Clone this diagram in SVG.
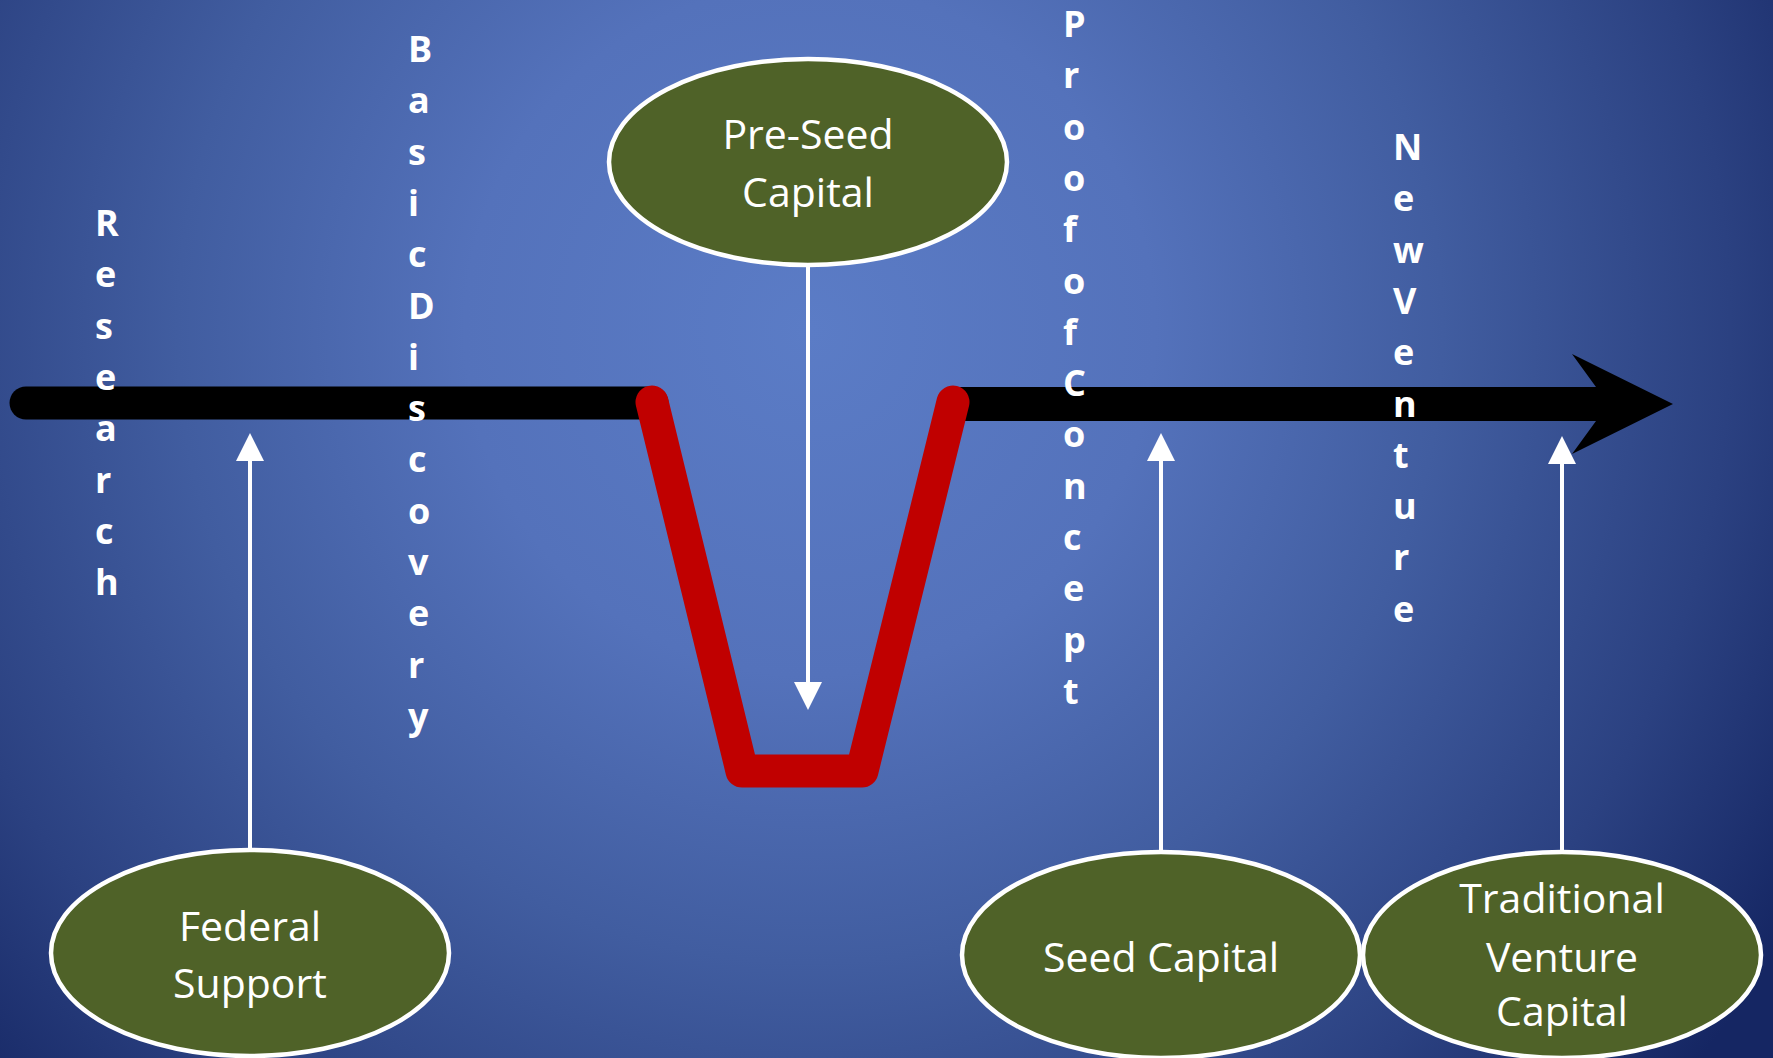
<svg xmlns="http://www.w3.org/2000/svg" width="1773" height="1058" viewBox="0 0 1773 1058">
  <defs>
    <radialGradient id="bg" gradientUnits="userSpaceOnUse" cx="810" cy="330" r="1150">
      <stop offset="0" stop-color="#5b7cc6"/>
      <stop offset="0.3" stop-color="#5472bb"/>
      <stop offset="0.55" stop-color="#415da0"/>
      <stop offset="0.8" stop-color="#2b4181"/>
      <stop offset="1" stop-color="#152663"/>
    </radialGradient>
    <marker id="head" viewBox="0 0 28 28" refX="2" refY="14" markerWidth="28" markerHeight="28" markerUnits="userSpaceOnUse" orient="auto">
      <path d="M0,0 L28,14 L0,28 z" fill="#ffffff"/>
    </marker>
  </defs>
  <style>
    .node ellipse { fill: #4f6228; stroke: #ffffff; stroke-width: 4.5; }
    .label { font-family: "Open Sans", "Liberation Sans", sans-serif; font-size: 41px; fill: #ffffff; text-anchor: middle; }
    .vert { font-family: "Open Sans", "Liberation Sans", sans-serif; font-size: 36px; font-weight: bold; fill: #ffffff; }
    .conn { stroke: #ffffff; stroke-width: 4; fill: none; marker-end: url(#head); }
  </style>
  <rect x="0" y="0" width="1773" height="1058" fill="url(#bg)"/>

  <g id="timeline">
    <line x1="26" y1="403" x2="652" y2="403" stroke="#000000" stroke-width="33" stroke-linecap="round"/>
    <polygon points="953,387 1596,387 1572,354 1673,404 1572,454 1596,421 953,421" fill="#000000"/>
    <path d="M652,402 L742,771 L862,771 L953,402" fill="none" stroke="#c00000" stroke-width="33" stroke-linecap="round" stroke-linejoin="round"/>
  </g>

  <g id="connectors">
    <line class="conn" x1="808" y1="267" x2="808" y2="684"/>
    <line class="conn" x1="250" y1="848" x2="250" y2="459"/>
    <line class="conn" x1="1161" y1="850" x2="1161" y2="459"/>
    <line class="conn" x1="1562" y1="850" x2="1562" y2="462"/>
  </g>

  <g id="node-preseed" class="node">
    <ellipse cx="808" cy="162" rx="199" ry="103"/>
    <text class="label" x="808" y="149">Pre-Seed</text>
    <text class="label" x="808" y="207">Capital</text>
  </g>
  <g id="node-federal" class="node">
    <ellipse cx="250" cy="953" rx="199" ry="103"/>
    <text class="label" x="250" y="941">Federal</text>
    <text class="label" x="250" y="998">Support</text>
  </g>
  <g id="node-seed" class="node">
    <ellipse cx="1161" cy="955" rx="199" ry="103"/>
    <text class="label" x="1161" y="972">Seed Capital</text>
  </g>
  <g id="node-traditional" class="node">
    <ellipse cx="1562" cy="955" rx="199" ry="103"/>
    <text class="label" x="1562" y="913">Traditional</text>
    <text class="label" x="1562" y="972">Venture</text>
    <text class="label" x="1562" y="1026">Capital</text>
  </g>

  <g id="stage-research">
    <text class="vert" x="95" y="236"><tspan x="95">R</tspan><tspan x="95" dy="51.3">e</tspan><tspan x="95" dy="51.3">s</tspan><tspan x="95" dy="51.3">e</tspan><tspan x="95" dy="51.3">a</tspan><tspan x="95" dy="51.3">r</tspan><tspan x="95" dy="51.3">c</tspan><tspan x="95" dy="51.3">h</tspan></text>
  </g>
  <g id="stage-basic-discovery">
    <text class="vert" x="408" y="62"><tspan x="408">B</tspan><tspan x="408" dy="51.3">a</tspan><tspan x="408" dy="51.3">s</tspan><tspan x="408" dy="51.3">i</tspan><tspan x="408" dy="51.3">c</tspan><tspan x="408" dy="51.3">D</tspan><tspan x="408" dy="51.3">i</tspan><tspan x="408" dy="51.3">s</tspan><tspan x="408" dy="51.3">c</tspan><tspan x="408" dy="51.3">o</tspan><tspan x="408" dy="51.3">v</tspan><tspan x="408" dy="51.3">e</tspan><tspan x="408" dy="51.3">r</tspan><tspan x="408" dy="51.3">y</tspan></text>
  </g>
  <g id="stage-proof-of-concept">
    <text class="vert" x="1063" y="37"><tspan x="1063">P</tspan><tspan x="1063" dy="51.3">r</tspan><tspan x="1063" dy="51.3">o</tspan><tspan x="1063" dy="51.3">o</tspan><tspan x="1063" dy="51.3">f</tspan><tspan x="1063" dy="51.3">o</tspan><tspan x="1063" dy="51.3">f</tspan><tspan x="1063" dy="51.3">C</tspan><tspan x="1063" dy="51.3">o</tspan><tspan x="1063" dy="51.3">n</tspan><tspan x="1063" dy="51.3">c</tspan><tspan x="1063" dy="51.3">e</tspan><tspan x="1063" dy="51.3">p</tspan><tspan x="1063" dy="51.3">t</tspan></text>
  </g>
  <g id="stage-new-venture">
    <text class="vert" x="1393" y="160"><tspan x="1393">N</tspan><tspan x="1393" dy="51.3">e</tspan><tspan x="1393" dy="51.3">w</tspan><tspan x="1393" dy="51.3">V</tspan><tspan x="1393" dy="51.3">e</tspan><tspan x="1393" dy="51.3">n</tspan><tspan x="1393" dy="51.3">t</tspan><tspan x="1393" dy="51.3">u</tspan><tspan x="1393" dy="51.3">r</tspan><tspan x="1393" dy="51.3">e</tspan></text>
  </g>
</svg>
